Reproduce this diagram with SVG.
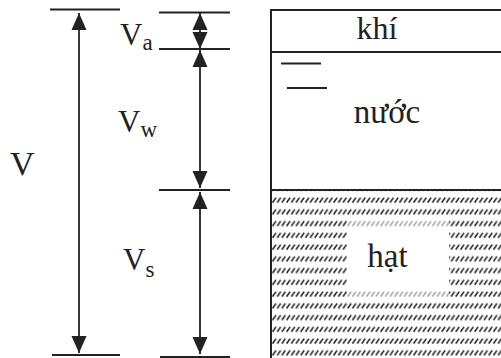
<svg xmlns="http://www.w3.org/2000/svg" width="501" height="358" viewBox="0 0 501 358">
<style>
.tick{stroke:#222;stroke-width:2;fill:none}
.lbl{font-family:"Liberation Serif","Times New Roman",serif;fill:#222}
.big{font-size:31px}
.sub{font-size:23px}
.box{stroke:#222;stroke-width:2;fill:none}
.arrow{stroke:#222;stroke-width:1.8;fill:none;marker-start:url(#ah);marker-end:url(#ah)}
</style>
<defs>
<marker id="ah" markerUnits="userSpaceOnUse" markerWidth="18" markerHeight="16" refX="17" refY="8" orient="auto-start-reverse" viewBox="0 0 18 16">
<path d="M0,0.5 L17,8 L0,15.5 Z" fill="#222"/>
</marker>
<pattern id="hatch" patternUnits="userSpaceOnUse" x="272" y="197" width="4.7" height="11.75">
<line x1="0.5" y1="5.6" x2="4.0" y2="0.6" stroke="#222" stroke-width="1.6"/>
</pattern>
</defs>
<rect width="501" height="358" fill="#fff"/>

<g id="scale-lines">
<line class="tick" x1="50" y1="9.5" x2="120" y2="9.5"/>
<line class="tick" x1="52" y1="355" x2="120" y2="355"/>
<line class="tick" x1="159" y1="12.5" x2="230" y2="12.5"/>
<line class="tick" x1="159" y1="49" x2="230" y2="49"/>
<line class="tick" x1="159" y1="190" x2="230" y2="190"/>
<line class="tick" x1="160" y1="357" x2="230" y2="357"/>
</g>

<g id="connectors">
<line class="arrow" x1="79" y1="13" x2="79" y2="353"/>
<line class="arrow" x1="200" y1="13" x2="200" y2="49"/>
<line class="arrow" x1="200" y1="50" x2="200" y2="188"/>
<line class="arrow" x1="200" y1="192" x2="200" y2="354"/>
</g>

<g id="label-V"><text class="lbl" x="10" y="175" font-size="34">V</text></g>
<g id="label-Va"><text class="lbl big" x="120" y="45">V<tspan class="sub" dy="5">a</tspan></text></g>
<g id="label-Vw"><text class="lbl big" x="118" y="132">V<tspan class="sub" dy="5">w</tspan></text></g>
<g id="label-Vs"><text class="lbl big" x="123" y="270">V<tspan class="sub" dy="7">s</tspan></text></g>

<g id="solid">
<rect x="272" y="191" width="229" height="167" fill="url(#hatch)"/>
<rect x="347" y="220" width="102" height="82" fill="#fff" opacity="0.6"/>
<rect x="347" y="232" width="102" height="59" fill="#fff"/>
<text class="lbl" x="387.5" y="267" font-size="33" text-anchor="middle">hạt</text>
</g>

<g id="air">
<text class="lbl" x="377" y="39" font-size="32" text-anchor="middle">khí</text>
</g>

<g id="water">
<line class="tick" x1="281" y1="63.5" x2="321" y2="63.5"/>
<line class="tick" x1="287" y1="88" x2="327" y2="88"/>
<text class="lbl" x="387" y="123" font-size="33" text-anchor="middle">nước</text>
</g>

<g id="container">
<rect class="box" x="271" y="10" width="260" height="370"/>
<line class="box" x1="271" y1="52" x2="501" y2="52"/>
<line class="box" x1="271" y1="190" x2="501" y2="190"/>
</g>
</svg>
